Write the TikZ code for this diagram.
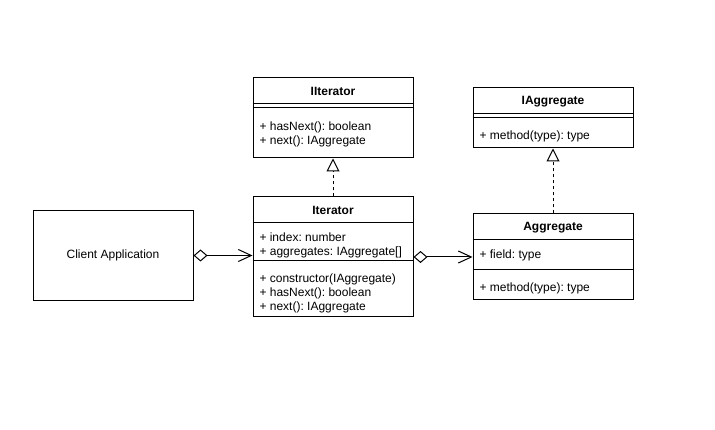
\documentclass[tikz,border=0pt]{standalone}
\usepackage{fontspec}
\setmainfont{Liberation Sans}
\frenchspacing
\usetikzlibrary{arrows.meta,calc,positioning}
\tikzset{
  >={Straight Barb[length=13pt,width=12pt]}
}

\begin{document}
\begin{tikzpicture}[x=1pt,y=-1pt,line width=1pt,
    box/.style={draw=black,minimum width=160pt,inner sep=0pt},
    title/.style={inner sep=0pt,font=\bfseries\fontsize{12}{14}\selectfont},
    member/.style={anchor=base west,inner sep=0pt,font=\fontsize{12}{14}\selectfont},
    realize/.style={dash pattern=on 3pt off 3pt,-{Triangle[open,length=13pt,width=13pt]}},
    owns/.style={{Diamond[open,length=14pt,width=12pt]}->}]
        \useasboundingbox (0,0) rectangle (715,430);

        % interfaces
        \node (IIter) at (333, 118) [box, minimum height=80pt] {};
        \node (IIterT) at (333, 91.5) [title] {IIterator};
        \draw ([yshift=-26pt]IIter.north west) -- ([yshift=-26pt]IIter.north east);
        \draw ([yshift=-30pt]IIter.north west) -- ([yshift=-30pt]IIter.north east);
        \node (IIterM1) at (259, 130.5) [member] {+ hasNext(): boolean};
        \node (IIterM2) at (259, 144.5) [member] {+ next(): IAggregate};

        \node (IAggr) at (553, 118) [box, minimum height=60pt] {};
        \node (IAggrT) at (553, 101.5) [title] {IAggregate};
        \draw ([yshift=-26pt]IAggr.north west) -- ([yshift=-26pt]IAggr.north east);
        \draw ([yshift=-30pt]IAggr.north west) -- ([yshift=-30pt]IAggr.north east);
        \node (IAggrM1) at (479, 139.5) [member] {+ method(type): type};

        % classes
        \node (Iter) at (333, 257) [box, minimum height=120pt] {};
        \node (IterT) at (333, 210.5) [title] {Iterator};
        \draw ([yshift=-26pt]Iter.north west) -- ([yshift=-26pt]Iter.north east);
        \draw ([yshift=-64pt]Iter.north west) -- ([yshift=-64pt]Iter.north east);
        \node (IterA1) at (259, 241.5) [member] {+ index: number};
        \node (IterA2) at (259, 255.5) [member] {+ aggregates: IAggregate[]};
        \node (IterM1) at (259, 282.5) [member] {+ constructor(IAggregate)};
        \node (IterM2) at (259, 296.5) [member] {+ hasNext(): boolean};
        \node (IterM3) at (259, 310.5) [member] {+ next(): IAggregate};

        \node (Aggr) at (553, 257) [box, minimum height=86pt] {};
        \node (AggrT) at (553, 227.5) [title] {Aggregate};
        \draw ([yshift=-26pt]Aggr.north west) -- ([yshift=-26pt]Aggr.north east);
        \draw ([yshift=-56pt]Aggr.north west) -- ([yshift=-56pt]Aggr.north east);
        \node (AggrA1) at (479, 258.5) [member] {+ field: type};
        \node (AggrM1) at (479, 291.5) [member] {+ method(type): type};

        \node (Client) at (113, 255.5) [box, minimum height=90pt,
            font=\fontsize{12}{14}\selectfont] {Client Application};

        % relations
        \draw[realize] (Iter.north) -- (IIter.south);
        \draw[realize] (Aggr.north) -- (IAggr.south);
        \draw[owns] (Client.east) -- (Client.east -| Iter.west);
        \draw[owns] (Iter.east) -- (Iter.east -| Aggr.west);
    \end{tikzpicture}
\end{document}
